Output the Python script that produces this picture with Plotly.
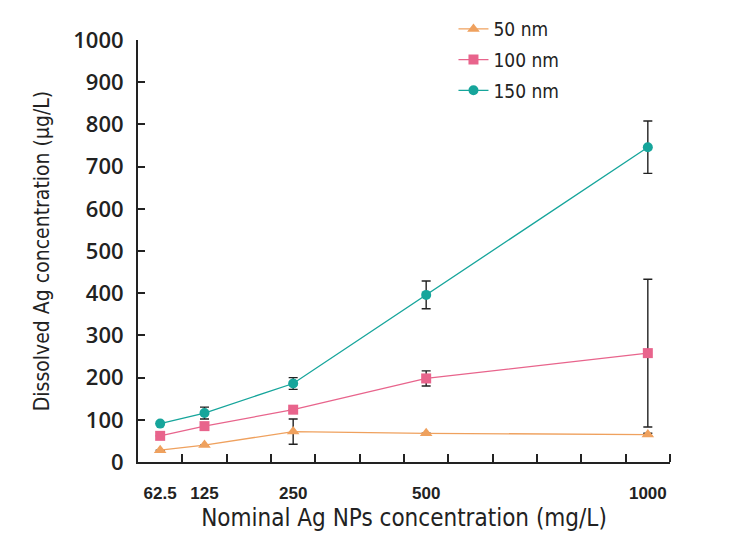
import plotly.graph_objects as go

# ---- data ----
concentrations = ["62.5", "125", "250", "500", "1000"]   # nominal Ag NPs (mg/L)
series_names = ["50 nm", "100 nm", "150 nm"]
y_50 = [28, 40, 72, 68, 65]
e_50 = [0, 0, 30, 0, 3]
y_100 = [62, 85, 124, 198, 258]
e_100 = [0, 0, 0, 18, 175]
y_150 = [91, 116, 186, 396, 746]
e_150 = [0, 14, 14, 33, 62]
y_ticks = [0, 100, 200, 300, 400, 500, 600, 700, 800, 900, 1000]

# axis layout: slot of each category on the (irregular) x axis
slot = {"62.5": 0.5, "125": 1.5, "250": 3.5, "500": 6.5, "1000": 11.5}
xs = [slot[c] for c in concentrations]

colors = ["#EFA15E", "#E8648C", "#16A59B"]
symbols = ["triangle-up", "square", "circle"]
ys = [y_50, y_100, y_150]
es = [e_50, e_100, e_150]

fig = go.Figure()
for name, y, e, col, sym in zip(series_names, ys, es, colors, symbols):
    fig.add_trace(go.Scatter(
        x=xs, y=y, name=name, mode="lines+markers", legendgroup=name,
        line=dict(color=col, width=1.3),
        marker=dict(symbol=sym, size=10 if sym != "triangle-up" else 11, color=col),
        error_y=dict(type="data", array=e, visible=True, color="#222222",
                     thickness=1.4, width=4.5),
    ))

font_ticks = "Open Sans, Liberation Sans, sans-serif"
font_xticks = "Liberation Sans, Arial, sans-serif"
font_narrow = "DejaVu Sans Condensed, Liberation Sans Narrow, sans-serif"

fig.update_layout(
    width=739, height=557,
    margin=dict(l=130, r=77, t=32, b=103, autoexpand=False),
    paper_bgcolor="white", plot_bgcolor="white",
    showlegend=True,
    legend=dict(x=0.593, y=1.071, xanchor="left", yanchor="top",
                font=dict(family=font_narrow, size=19, color="#222222"),
                tracegroupgap=3, bgcolor="rgba(0,0,0,0)", itemwidth=30),
    xaxis=dict(
        range=[0, 12], showgrid=False, zeroline=False,
        showline=True, linecolor="#222222", linewidth=2,
        tickvals=xs, ticktext=concentrations, ticks="",
        ticklabelstandoff=15,
        tickfont=dict(family=font_xticks, size=17, color="#222222", weight="bold"),
        minor=dict(tickvals=list(range(1, 13)), ticks="inside", ticklen=8,
                   tickwidth=2, tickcolor="#222222", showgrid=False),
        title=dict(text="Nominal Ag NPs concentration (mg/L)", standoff=7,
                   font=dict(family=font_narrow, size=24, color="#222222")),
    ),
    yaxis=dict(
        range=[0, 1000], showgrid=False, zeroline=False,
        showline=True, linecolor="#222222", linewidth=2,
        tickvals=y_ticks, ticks="inside", ticklen=7, tickwidth=2, tickcolor="#222222",
        ticklabelstandoff=8,
        tickfont=dict(family=font_ticks, size=22, color="#222222", weight=600),
        title=dict(text="Dissolved Ag concentration (μg/L)", standoff=18,
                   font=dict(family=font_narrow, size=21, color="#222222")),
    ),
)

fig.write_html("out.html")
